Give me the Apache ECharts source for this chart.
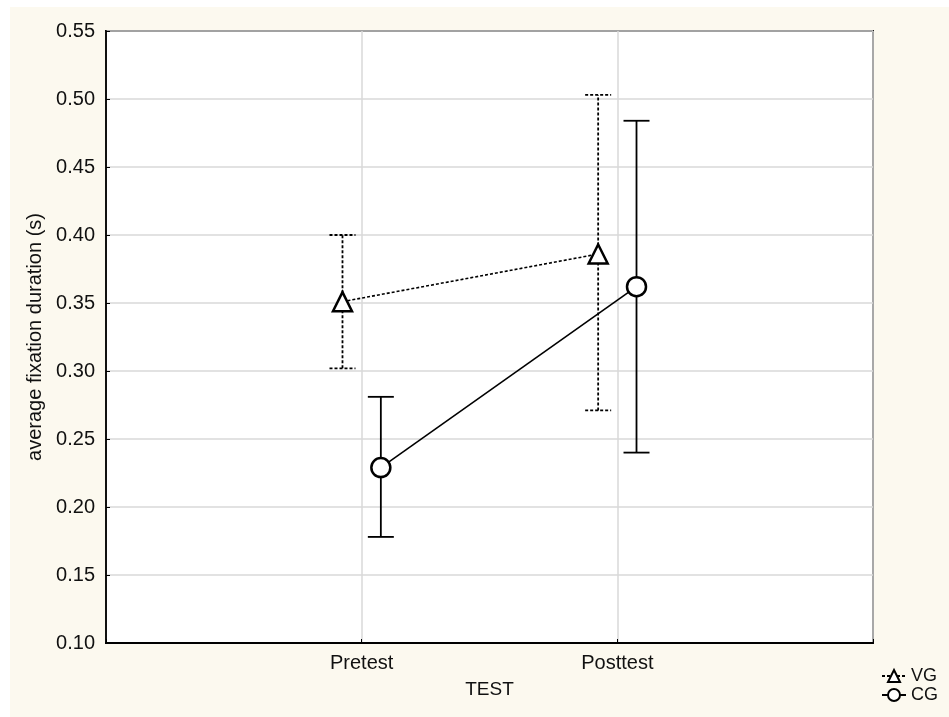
<!DOCTYPE html>
<html><head><meta charset="utf-8">
<script src="https://cdn.jsdelivr.net/npm/echarts@6/dist/echarts.min.js"></script>
<style>html,body{margin:0;padding:0;background:#fff}#c{width:949px;height:717px}</style>
</head><body><div id="c"></div>
<script>
const categories = ['Pretest', 'Posttest'];
const vgMean = [0.351, 0.386];
const vgLow = [0.302, 0.271];
const vgHigh = [0.400, 0.503];
const cgMean = [0.229, 0.362];
const cgLow = [0.178, 0.240];
const cgHigh = [0.281, 0.484];
const yTicks = [0.10, 0.15, 0.20, 0.25, 0.30, 0.35, 0.40, 0.45, 0.50, 0.55];

const OFF = 0.075;
const xv = (i, s) => i + 1 + s * OFF;
const vgPts = vgMean.map((v, i) => [xv(i, -1), v]);
const cgPts = cgMean.map((v, i) => [xv(i, 1), v]);
const vgErr = vgMean.map((v, i) => [xv(i, -1), vgLow[i], vgHigh[i]]);
const cgErr = cgMean.map((v, i) => [xv(i, 1), cgLow[i], cgHigh[i]]);

function errRender(dashed) {
  return function (params, api) {
    const x = api.value(0);
    const lo = api.coord([x, api.value(1)]);
    const hi = api.coord([x, api.value(2)]);
    const w = 13;
    const style = { stroke: '#000', lineWidth: 1.8, lineDash: dashed ? [3, 2] : null };
    return {
      type: 'group',
      children: [
        { type: 'line', shape: { x1: lo[0], y1: lo[1], x2: hi[0], y2: hi[1] }, style },
        { type: 'line', shape: { x1: lo[0] - w, y1: lo[1], x2: lo[0] + w, y2: lo[1] }, style },
        { type: 'line', shape: { x1: hi[0] - w, y1: hi[1], x2: hi[0] + w, y2: hi[1] }, style }
      ]
    };
  };
}

const chart = echarts.init(document.getElementById('c'), null, { renderer: 'canvas' });
chart.setOption({
  backgroundColor: '#ffffff',
  animation: false,
  textStyle: { fontFamily: 'Liberation Sans, Arial, sans-serif' },
  graphic: [{ type: 'rect', z: -10, shape: { x: 10, y: 7, width: 939, height: 710 }, style: { fill: '#fcf9ef' } }],
  grid: { left: 106, right: 76, top: 31, bottom: 74, show: true, backgroundColor: '#fff', borderColor: '#000', borderWidth: 1.8 },
  xAxis: {
    type: 'value', min: 0, max: 3, interval: 1,
    name: 'TEST', nameLocation: 'middle', nameGap: 37,
    nameTextStyle: { color: '#111', fontSize: 19 },
    axisLine: { show: true, lineStyle: { color: '#000', width: 1.8 } },
    axisTick: { show: true, inside: true, length: 4, lineStyle: { color: '#000' } },
    axisLabel: { color: '#111', fontSize: 20, margin: 10, formatter: v => categories[v - 1] || '' },
    splitLine: { show: true, lineStyle: { color: '#d9d9d9', width: 1.5 } }
  },
  yAxis: {
    type: 'value', min: yTicks[0], max: yTicks[yTicks.length - 1], interval: 0.05,
    name: 'average fixation duration (s)', nameLocation: 'middle', nameGap: 60,
    nameTextStyle: { color: '#111', fontSize: 20 },
    axisLine: { show: true, lineStyle: { color: '#000', width: 1.8 } },
    axisTick: { show: true, inside: true, length: 4, lineStyle: { color: '#000' } },
    axisLabel: { color: '#111', fontSize: 20, margin: 11, formatter: v => v.toFixed(2) },
    splitLine: { show: true, lineStyle: { color: '#d9d9d9', width: 1.5 } }
  },
  legend: {
    orient: 'vertical', left: 876, top: 662, itemGap: 1, itemWidth: 24, itemHeight: 15,
    textStyle: { color: '#111', fontSize: 18 },
    data: ['VG', 'CG']
  },
  series: [
    { name: 'VG', type: 'line', data: vgPts, symbol: 'triangle', symbolSize: 19,
      lineStyle: { color: '#000', width: 1.6, type: [3, 2] },
      itemStyle: { color: '#fff', borderColor: '#000', borderWidth: 2.5 }, z: 3 },
    { name: 'CG', type: 'line', data: cgPts, symbol: 'circle', symbolSize: 19,
      lineStyle: { color: '#000', width: 1.6 },
      itemStyle: { color: '#fff', borderColor: '#000', borderWidth: 2.5 }, z: 3 },
    { type: 'custom', data: vgErr, renderItem: errRender(true), z: 2, silent: true },
    { type: 'custom', data: cgErr, renderItem: errRender(false), z: 2, silent: true }
  ]
});
</script></body></html>
